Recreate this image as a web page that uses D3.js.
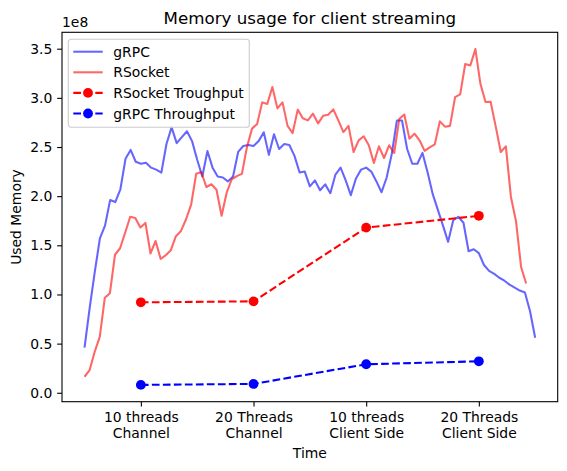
<!DOCTYPE html>
<html>
<head>
<meta charset="utf-8">
<script src="https://cdn.jsdelivr.net/npm/d3@7"></script>
<style>
  body { margin: 0; background: #fff; }
  text { font-family: "DejaVu Sans", sans-serif; fill: #000; }
</style>
</head>
<body>
<svg id="chart" width="567" height="471"></svg>
<script>
// categories on the x axis (two-line labels)
var categories = ["10 threads\nChannel", "20 Threads\nChannel", "10 threads\nClient Side", "20 Threads\nClient Side"];

// memory samples, in units of 1e8
var grpcMemory = [
  0.46, 0.86, 1.23, 1.57, 1.70, 1.96, 1.94, 2.07, 2.38, 2.47,
  2.35, 2.33, 2.34, 2.29, 2.27, 2.24, 2.53, 2.70, 2.54, 2.60,
  2.66, 2.56, 2.37, 2.20, 2.46, 2.29, 2.20, 2.19, 2.15, 2.20,
  2.45, 2.51, 2.52, 2.51, 2.56, 2.65, 2.42, 2.63, 2.48, 2.53,
  2.52, 2.41, 2.24, 2.25, 2.10, 2.16, 2.06, 2.12, 2.03, 2.22,
  2.29, 2.16, 2.01, 2.18, 2.27, 2.29, 2.25, 2.15, 2.04, 2.19,
  2.43, 2.77, 2.77, 2.48, 2.33, 2.33, 2.44, 2.24, 2.02, 1.86,
  1.70, 1.535, 1.755, 1.79, 1.73, 1.44, 1.46, 1.42, 1.30, 1.24,
  1.21, 1.17, 1.14, 1.10, 1.07, 1.04, 1.02, 0.83, 0.56
];
var rsocketMemory = [
  0.163, 0.231, 0.417, 0.569, 0.967, 1.013, 1.404, 1.470, 1.628, 1.791,
  1.778, 1.681, 1.728, 1.417, 1.544, 1.362, 1.399, 1.450, 1.593, 1.646,
  1.765, 1.913, 2.229, 2.246, 2.093, 2.121, 2.065, 1.80, 2.035, 2.172,
  2.204, 2.227, 2.50, 2.687, 2.734, 2.954, 2.937, 3.110, 2.893, 2.954,
  2.715, 2.642, 2.880, 2.792, 2.771, 2.839, 2.741, 2.817, 2.829, 2.883,
  2.771, 2.652, 2.715, 2.449, 2.568, 2.609, 2.517, 2.337, 2.507, 2.388,
  2.517, 2.439, 2.784, 2.830, 2.585, 2.636, 2.568, 2.461, 2.497, 2.527,
  2.761, 2.707, 2.715, 3.008, 3.036, 3.344, 3.330, 3.496, 3.140, 2.957,
  2.961, 2.710, 2.449, 2.507, 1.992, 1.745, 1.280, 1.112
];
// time span of each memory trace, in category units
var grpcSpan = [-0.5, 3.5];
var rsocketSpan = [-0.5, 3.42];

var rsocketThroughput = [0.92, 0.93, 1.68, 1.80];
var grpcThroughput = [0.08, 0.09, 0.29, 0.32];

var yTicks = [0, 0.5, 1.0, 1.5, 2.0, 2.5, 3.0, 3.5];

var margin = {left: 62, top: 32.3, right: 9.3, bottom: 69.3};
var width = 567 - margin.left - margin.right,
    height = 471 - margin.top - margin.bottom;

var svg = d3.select("#chart").append("g")
    .attr("transform", "translate(" + margin.left + "," + margin.top + ")");

// matplotlib style 5% margins
var xMin = grpcSpan[0], xMax = grpcSpan[1];
var xPad = (xMax - xMin) * 0.05;
var x = d3.scaleLinear().domain([xMin - xPad, xMax + xPad]).range([0, width]);

var allY = grpcMemory.concat(rsocketMemory, rsocketThroughput, grpcThroughput);
var yMin = d3.min(allY), yMax = d3.max(allY);
var yPad = (yMax - yMin) * 0.05;
var y = d3.scaleLinear().domain([yMin - yPad, yMax + yPad]).range([height, 0]);

function traceX(span, n) {
  return d3.scaleLinear().domain([0, n - 1]).range(span);
}

function drawMemory(data, span, color) {
  var tx = traceX(span, data.length);
  var line = d3.line()
      .x(function(d, i) { return x(tx(i)); })
      .y(function(d) { return y(d); });
  svg.append("path")
      .datum(data)
      .attr("fill", "none")
      .attr("stroke", color)
      .attr("stroke-opacity", 0.6)
      .attr("stroke-width", 2.08)
      .attr("stroke-linejoin", "round")
      .attr("d", line);
}

function drawThroughput(data, color) {
  var line = d3.line()
      .x(function(d, i) { return x(i); })
      .y(function(d) { return y(d); });
  svg.append("path")
      .datum(data)
      .attr("fill", "none")
      .attr("stroke", color)
      .attr("stroke-width", 2.08)
      .attr("stroke-dasharray", "7.7,3.3")
      .attr("d", line);
  svg.selectAll(".dot-" + color)
      .data(data)
      .enter().append("circle")
      .attr("class", "dot-" + color)
      .attr("cx", function(d, i) { return x(i); })
      .attr("cy", function(d) { return y(d); })
      .attr("r", 4.9)
      .attr("fill", color);
}

drawMemory(grpcMemory, grpcSpan, "blue");
drawMemory(rsocketMemory, rsocketSpan, "red");
drawThroughput(rsocketThroughput, "red");
drawThroughput(grpcThroughput, "blue");

// axes
var xAxis = d3.axisBottom(x)
    .tickValues(d3.range(categories.length))
    .tickSize(4.86)
    .tickPadding(4.86)
    .tickFormat(function(d) { return ""; });

var gx = svg.append("g")
    .attr("transform", "translate(0," + height + ")")
    .call(xAxis);

gx.selectAll(".tick").each(function(d) {
  var t = d3.select(this).append("text")
      .attr("text-anchor", "middle")
      .style("font-size", "13.9px");
  categories[d].split("\n").forEach(function(s, k) {
    t.append("tspan").attr("x", 0).attr("y", 20.2 + k * 16.2).text(s);
  });
});

var yAxis = d3.axisLeft(y)
    .tickValues(yTicks)
    .tickSize(4.86)
    .tickPadding(4.86)
    .tickFormat(d3.format(".1f"));

var gy = svg.append("g").call(yAxis);
gy.selectAll("text").style("font-size", "13.9px").style("font-family", "DejaVu Sans");

[gx, gy].forEach(function(g) {
  g.select(".domain").remove();
  g.selectAll(".tick line").attr("stroke", "#000").attr("stroke-width", 1.1);
});

// frame
svg.append("rect")
    .attr("width", width)
    .attr("height", height)
    .attr("fill", "none")
    .attr("stroke", "#000")
    .attr("stroke-width", 1.1);

// texts
svg.append("text")
    .attr("x", width / 2)
    .attr("y", -8.5)
    .attr("text-anchor", "middle")
    .style("font-size", "16.7px")
    .text("Memory usage for client streaming");

svg.append("text")
    .attr("x", 0)
    .attr("y", -5.5)
    .style("font-size", "13.9px")
    .text("1e8");

svg.append("text")
    .attr("x", width / 2)
    .attr("y", height + 56)
    .attr("text-anchor", "middle")
    .style("font-size", "13.9px")
    .text("Time");

svg.append("text")
    .attr("transform", "translate(-41," + height / 2 + ") rotate(-90)")
    .attr("text-anchor", "middle")
    .style("font-size", "13.9px")
    .text("Used Memory");

// legend
var legendItems = [
  {label: "gRPC", color: "blue", opacity: 0.6, dashed: false},
  {label: "RSocket", color: "red", opacity: 0.6, dashed: false},
  {label: "RSocket Troughput", color: "red", opacity: 1, dashed: true},
  {label: "gRPC Throughput", color: "blue", opacity: 1, dashed: true}
];

var legend = svg.append("g").attr("transform", "translate(6.3,7)");
legend.append("rect")
    .attr("width", 181)
    .attr("height", 88)
    .attr("rx", 2.8)
    .attr("fill", "#fff")
    .attr("fill-opacity", 0.8)
    .attr("stroke", "#ccc")
    .attr("stroke-width", 1.1);

var entry = legend.selectAll(".entry")
    .data(legendItems)
    .enter().append("g")
    .attr("class", "entry")
    .attr("transform", function(d, i) { return "translate(0," + (12.4 + i * 20.6) + ")"; });

entry.append("line")
    .attr("x1", 5)
    .attr("x2", 34.4)
    .attr("stroke", function(d) { return d.color; })
    .attr("stroke-opacity", function(d) { return d.opacity; })
    .attr("stroke-width", 2.08)
    .attr("stroke-dasharray", function(d) { return d.dashed ? "7.7,3.3" : null; });

entry.filter(function(d) { return d.dashed; })
    .append("circle")
    .attr("cx", 19.7)
    .attr("r", 4.9)
    .attr("fill", function(d) { return d.color; });

entry.append("text")
    .attr("x", 45)
    .attr("y", 5)
    .style("font-size", "13.9px")
    .text(function(d) { return d.label; });
</script>
</body>
</html>
